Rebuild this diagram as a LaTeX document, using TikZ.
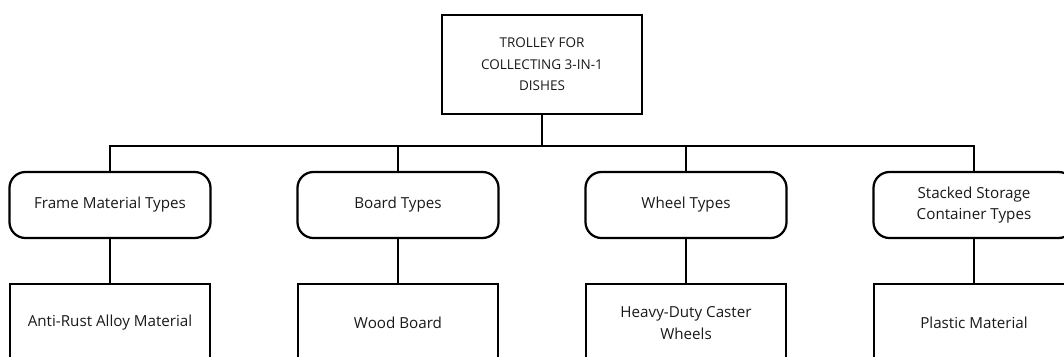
\documentclass[tikz,border=0pt]{standalone}
\usepackage{fontspec}
\setmainfont{Open Sans}
\usepackage{tikz}
\tikzset{
    label/.style={align=center,text=black!90,font=\fontsize{10.8}{15.4}\selectfont},
    topbox/.style={rectangle,draw,line width=1.6pt,label,font=\fontsize{9.6}{15.4}\selectfont,minimum width=5cm,minimum height=2.475cm},
    typebox/.style={rectangle,draw,line width=1.6pt,label,rounded corners=0.4cm,minimum width=5.025cm,minimum height=1.65cm},
    itembox/.style={rectangle,draw,line width=1.6pt,label,minimum width=5cm,minimum height=1.95cm},
    edge/.style={line width=1.6pt}
    }
\begin{document}
\begin{tikzpicture}[x=0.025cm,y=-0.025cm]

        \clip (0,0) rectangle (1064,356);

        % vertices
        \node[topbox] (0) at (542,64.5) {TROLLEY FOR\\COLLECTING 3-IN-1\\DISHES};
        \node[typebox] (1) at (110,205) {Frame Material Types};
        \node[typebox] (2) at (398,205) {Board Types};
        \node[typebox] (3) at (686,205) {Wheel Types};
        \node[typebox] (4) at (974,205) {Stacked Storage\\Container Types};
        \node[itembox] (5) at (110,323) {Anti-Rust Alloy Material};
        \node[itembox] (6) at (398,323) {Wood Board};
        \node[itembox] (7) at (686,323) {Heavy-Duty Caster\\Wheels};
        \node[itembox] (8) at (974,323) {Plastic Material};
        \coordinate (bus) at (542,146);

        %edges
        \draw[edge] (0) -- (bus);
        \draw[edge] (1.north) |- (bus);
        \draw[edge] (2.north) |- (bus);
        \draw[edge] (3.north) |- (bus);
        \draw[edge] (4.north) |- (bus);
        \draw[edge] (1) -- (5);
        \draw[edge] (2) -- (6);
        \draw[edge] (3) -- (7);
        \draw[edge] (4) -- (8);
    \end{tikzpicture}
\end{document}
